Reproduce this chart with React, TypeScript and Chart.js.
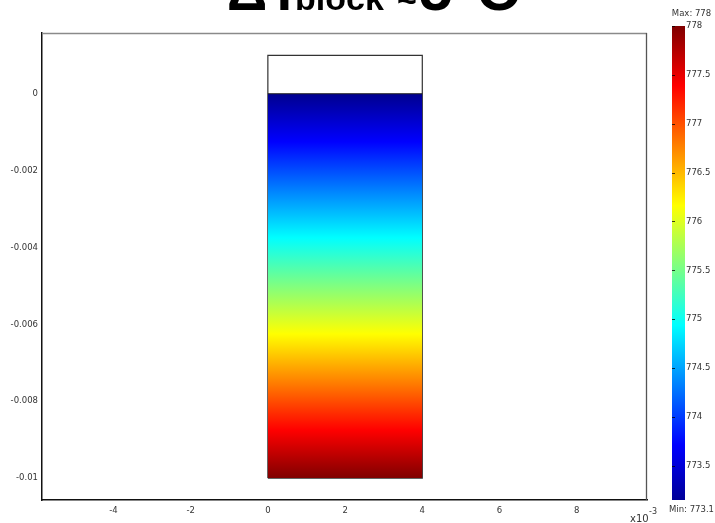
import React, { useEffect, useRef } from "react";
import { Chart, registerables } from "chart.js";

Chart.register(...registerables);

// Block geometry: x in units of 1e-3 m, y in m
const blockX = [0, 4];
const blockTop = 0.001;
const heatedTop = 0;
const heatedBottom = -0.01;

// Temperature profile through the heated domain (depth in m, temperature)
const profileDepth = [0, -0.01];
const profileTemp = [773.1, 778];

// Axis limits and tick spacing
const xLimits = [-5.85, 9.82];
const yLimits = [-0.01057, 0.00158];
const xTickStep = 2;
const yTickStep = 0.002;

// Colour legend
const legendMin = 773.1;
const legendMax = 778;
const legendAxisLow = 773.15;
const legendTickStep = 0.5;

// Jet colour map anchors
const jetPos = [0, 0.125, 0.375, 0.5, 0.625, 0.875, 1];
const jetRGB = [
  [0, 0, 143],
  [0, 0, 255],
  [0, 255, 255],
  [128, 255, 128],
  [255, 255, 0],
  [255, 0, 0],
  [128, 0, 0],
];

const TICK_FONT = { family: "'DejaVu Sans', Verdana, sans-serif", size: 8.5 };
const TICK_COLOR = "#333";

function jet(t: number): string {
  const v = Math.max(0, Math.min(1, t));
  for (let i = 1; i < jetPos.length; i++) {
    if (v <= jetPos[i]) {
      const f = (v - jetPos[i - 1]) / (jetPos[i] - jetPos[i - 1]);
      const a = jetRGB[i - 1];
      const b = jetRGB[i];
      const c = a.map((x, k) => Math.round(x + (b[k] - x) * f));
      return `rgb(${c[0]},${c[1]},${c[2]})`;
    }
  }
  const l = jetRGB[jetRGB.length - 1];
  return `rgb(${l[0]},${l[1]},${l[2]})`;
}

const tempToT = (temp: number) => (temp - legendMin) / (legendMax - legendMin);

// Gradient following the temperature profile along the y scale
function profileGradient(chart: any) {
  const area = chart.chartArea;
  if (!area) return "transparent";
  const ys = chart.scales.y;
  const p0 = ys.getPixelForValue(profileDepth[0]);
  const p1 = ys.getPixelForValue(profileDepth[profileDepth.length - 1]);
  const g = chart.ctx.createLinearGradient(0, p0, 0, p1);
  const steps = 24;
  for (let i = 0; i < profileDepth.length - 1; i++) {
    const a = ys.getPixelForValue(profileDepth[i]);
    const b = ys.getPixelForValue(profileDepth[i + 1]);
    for (let k = 0; k <= steps; k++) {
      const f = k / steps;
      const temp = profileTemp[i] + (profileTemp[i + 1] - profileTemp[i]) * f;
      const pos = (a + (b - a) * f - p0) / (p1 - p0);
      g.addColorStop(Math.max(0, Math.min(1, pos)), jet(tempToT(temp)));
    }
  }
  return g;
}

function legendGradient(chart: any) {
  const area = chart.chartArea;
  if (!area) return "transparent";
  const ys = chart.scales.y;
  const top = ys.getPixelForValue(legendMax);
  const bottom = ys.getPixelForValue(legendMin);
  const g = chart.ctx.createLinearGradient(0, bottom, 0, top);
  for (let k = 0; k <= 24; k++) g.addColorStop(k / 24, jet(k / 24));
  return g;
}

const fmt = (v: number, d: number) => String(Number(v.toFixed(d)));

const framePlugin = {
  id: "frame",
  afterDraw(chart: any) {
    const { ctx, chartArea: a } = chart;
    ctx.save();
    // top and right frame lines
    ctx.lineWidth = 1.3;
    ctx.strokeStyle = "#8a8a8a";
    ctx.beginPath();
    ctx.moveTo(a.left, a.top + 0.5);
    ctx.lineTo(a.right, a.top + 0.5);
    ctx.stroke();
    ctx.strokeStyle = "#555";
    ctx.beginPath();
    ctx.moveTo(a.right - 0.5, a.top);
    ctx.lineTo(a.right - 0.5, a.bottom);
    ctx.stroke();

    // x-axis multiplier
    ctx.fillStyle = TICK_COLOR;
    ctx.textAlign = "left";
    ctx.textBaseline = "alphabetic";
    ctx.font = "10px 'DejaVu Sans', sans-serif";
    ctx.fillText("x10", 630, 522);
    ctx.font = "8px 'DejaVu Sans', sans-serif";
    ctx.fillText("-3", 649, 514);

    // title
    ctx.fillStyle = "#000";
    ctx.font = "bold 56px 'Liberation Sans', Arial, sans-serif";
    ctx.fillText("ΔT", 227, 10);
    ctx.font = "bold 34px 'Liberation Sans', Arial, sans-serif";
    ctx.fillText("block", 295, 10);
    ctx.fillText("~", 397, 12);
    ctx.font = "bold 60px 'Liberation Sans', Arial, sans-serif";
    ctx.fillText("5°C", 419, 10);
    ctx.restore();
  },
};

const legendPlugin = {
  id: "legendFrame",
  afterDraw(chart: any) {
    const { ctx, chartArea: a } = chart;
    const ys = chart.scales.y;
    ctx.save();
    ctx.strokeStyle = "rgba(0,0,0,0.75)";
    ctx.lineWidth = 1;
    ys.ticks.forEach((t: any) => {
      const y = Math.round(ys.getPixelForValue(t.value)) + 0.5;
      ctx.beginPath();
      ctx.moveTo(a.left, y);
      ctx.lineTo(a.left + 3, y);
      ctx.stroke();
    });
    const cx = (a.left + a.right) / 2 + 13;
    ctx.fillStyle = TICK_COLOR;
    ctx.font = "8.5px 'DejaVu Sans', sans-serif";
    ctx.textAlign = "center";
    ctx.textBaseline = "middle";
    ctx.fillText(`Max: ${fmt(legendMax, 1)}`, cx, 14);
    ctx.fillText(`Min: ${fmt(legendMin, 1)}`, cx, 510);
    ctx.restore();
  },
};

export default function App() {
  const mainRef = useRef<HTMLCanvasElement>(null);
  const legendRef = useRef<HTMLCanvasElement>(null);

  useEffect(() => {
    if (!mainRef.current || !legendRef.current) return;

    const outline = [
      { x: blockX[0], y: heatedBottom },
      { x: blockX[0], y: blockTop },
      { x: blockX[1], y: blockTop },
      { x: blockX[1], y: heatedBottom },
      { x: blockX[0], y: heatedBottom },
    ];

    const main = new Chart(mainRef.current, {
      type: "scatter",
      data: {
        datasets: [
          {
            data: [
              { x: blockX[0], y: heatedTop },
              { x: blockX[1], y: heatedTop },
            ],
            showLine: true,
            fill: { value: heatedBottom },
            backgroundColor: (c: any) => profileGradient(c.chart),
            borderColor: "#222",
            borderWidth: 1.2,
            pointRadius: 0,
          },
          {
            data: outline,
            showLine: true,
            fill: false,
            borderColor: "#333",
            borderWidth: 1.2,
            pointRadius: 0,
          },
        ],
      },
      options: {
        animation: false,
        responsive: false,
        maintainAspectRatio: false,
        devicePixelRatio: 1,
        layout: { padding: { left: 0, top: 33, right: 68, bottom: 0 } },
        plugins: {
          legend: { display: false },
          tooltip: { enabled: false },
          title: { display: false },
        },
        scales: {
          x: {
            type: "linear",
            min: xLimits[0],
            max: xLimits[1],
            grid: { display: false, drawTicks: false },
            border: { display: true, color: "#111", width: 1.5 },
            ticks: {
              stepSize: xTickStep,
              includeBounds: false,
              autoSkip: false,
              maxRotation: 0,
              padding: 6,
              font: TICK_FONT,
              color: TICK_COLOR,
              callback: (v: any) => fmt(Number(v), 3),
            },
            afterFit: (s: any) => {
              s.height = 23;
            },
          },
          y: {
            type: "linear",
            min: yLimits[0],
            max: yLimits[1],
            grid: { display: false, drawTicks: false },
            border: { display: true, color: "#111", width: 1.5 },
            ticks: {
              stepSize: yTickStep,
              includeBounds: false,
              autoSkip: false,
              padding: 4,
              font: TICK_FONT,
              color: TICK_COLOR,
              callback: (v: any) => fmt(Number(v), 4),
            },
            afterFit: (s: any) => {
              s.width = 42;
            },
          },
        },
      },
      plugins: [framePlugin],
    });

    const legend = new Chart(legendRef.current, {
      type: "bar",
      data: {
        labels: ["T"],
        datasets: [
          {
            data: [[legendMin, legendMax]] as any,
            backgroundColor: (c: any) => legendGradient(c.chart),
            borderWidth: 0,
            barPercentage: 1,
            categoryPercentage: 1,
          },
        ],
      },
      options: {
        animation: false,
        responsive: false,
        maintainAspectRatio: false,
        devicePixelRatio: 1,
        layout: { padding: { left: 12, top: 26, right: 0, bottom: 23 } },
        plugins: {
          legend: { display: false },
          tooltip: { enabled: false },
          title: { display: false },
        },
        scales: {
          x: { display: false },
          y: {
            position: "right",
            min: legendAxisLow,
            max: legendMax,
            grid: { display: false, drawTicks: false },
            border: { display: false },
            ticks: {
              stepSize: legendTickStep,
              includeBounds: false,
              autoSkip: false,
              padding: 1,
              font: TICK_FONT,
              color: TICK_COLOR,
              callback: (v: any) => fmt(Number(v), 1),
            },
            afterFit: (s: any) => {
              s.width = 30;
            },
          },
        },
      },
      plugins: [legendPlugin],
    });

    return () => {
      main.destroy();
      legend.destroy();
    };
  }, []);

  return (
    <div
      style={{
        position: "absolute",
        left: 0,
        top: 0,
        width: 715,
        height: 523,
        background: "#fff",
        overflow: "hidden",
      }}
    >
      <canvas
        ref={mainRef}
        width={715}
        height={523}
        style={{ position: "absolute", left: 0, top: 0, width: 715, height: 523 }}
      />
      <canvas
        ref={legendRef}
        width={55}
        height={523}
        style={{ position: "absolute", left: 660, top: 0, width: 55, height: 523 }}
      />
    </div>
  );
}
